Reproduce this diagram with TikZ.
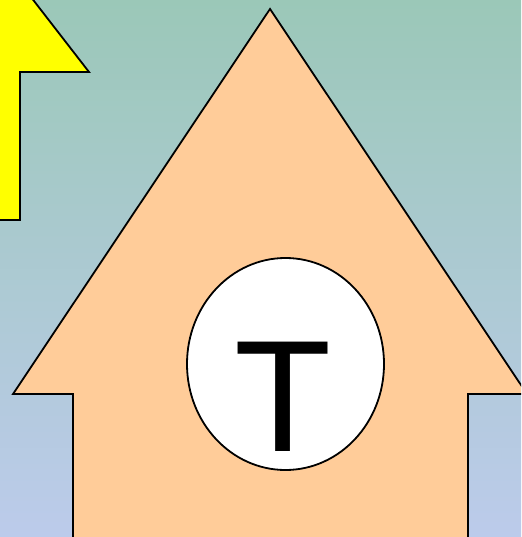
\documentclass[tikz,border=0pt]{standalone}
\usepackage{fontspec}
\setsansfont{Liberation Sans}
\usetikzlibrary{shapes.geometric}
\definecolor{skytop}{RGB}{155,200,184}
\definecolor{skybottom}{RGB}{188,203,235}
\definecolor{peach}{RGB}{255,204,153}
\definecolor{signyellow}{RGB}{255,255,0}
\begin{document}
\begin{tikzpicture}[x=1pt,y=-1pt,
outline/.style={draw=black,line width=1.8pt,line join=miter},
disc/.style={ellipse,draw=black,line width=1.8pt,fill=white,minimum width=197pt,minimum height=212pt,inner sep=0pt},
letter/.style={font=\sffamily\fontsize{159}{159}\selectfont,inner sep=0pt}]
\useasboundingbox (0,0) rectangle (521,537);
\clip (0,0) rectangle (521,537);
\shade[top color=skytop,bottom color=skybottom] (0,0) rectangle (521,537);
% small arrow, cut by the edge
\filldraw[outline,fill=signyellow] (10,-30) -- (89,72) -- (20,72) -- (20,220) -- (-10,220) -- (-10,-30) -- cycle;
% big arrow
\filldraw[outline,fill=peach] (270,9) -- (527,394) -- (468,394) -- (468,545) -- (73,545) -- (73,394) -- (13,394) -- cycle;
\node[disc] (disc) at (285.5,364) {};
\node[letter,anchor=base] (letter) at (283,451) {T};
\end{tikzpicture}
\end{document}
